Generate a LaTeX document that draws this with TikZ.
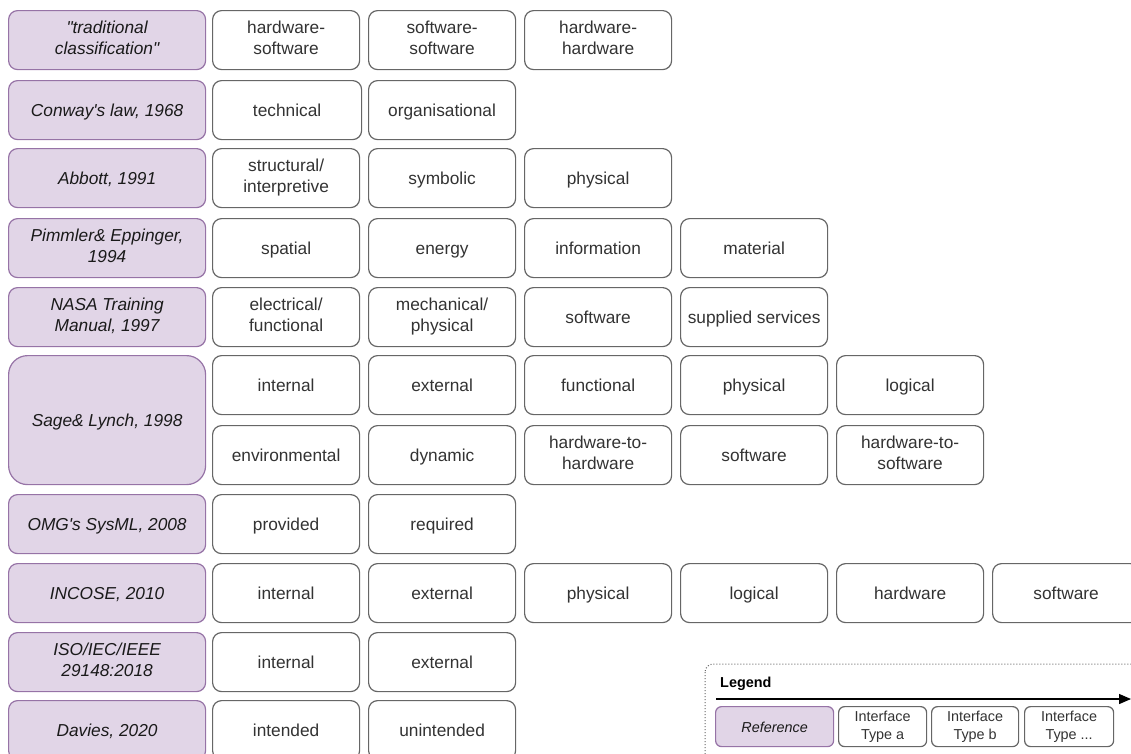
\documentclass[tikz,border=0pt]{standalone}
\usepackage{fontspec}
\usetikzlibrary{arrows.meta}
\newfontfamily\arial{Liberation Sans}
\definecolor{reffill}{HTML}{E1D5E7}
\definecolor{refdraw}{HTML}{9673A6}
\definecolor{ifcdraw}{HTML}{666666}
\definecolor{ifctext}{HTML}{333333}
\definecolor{reftext}{HTML}{1A1A1A}
% fixed-size strut so every line sits at the same height in its box
\newcommand\linestrut{\rule[-0.19\baselineskip]{0pt}{\baselineskip}}
\tikzset{
  cell/.style={anchor=north west, inner sep=0pt, align=center, line width=1.2pt,
    execute at begin node=\linestrut, execute at end node=\linestrut},
  refbox/.style={cell, rounded corners=9pt, draw=refdraw, fill=reffill, text=reftext,
    font=\arial\itshape\fontsize{17.3}{21}\selectfont, minimum width=197pt, minimum height=59pt},
  ifcbox/.style={cell, rounded corners=9pt, draw=ifcdraw, fill=white, text=ifctext,
    font=\arial\fontsize{17.3}{21}\selectfont, minimum width=147pt, minimum height=59pt},
  legref/.style={refbox, rounded corners=6pt, minimum width=118pt, minimum height=40pt,
    font=\arial\itshape\fontsize{14.4}{18}\selectfont},
  legifc/.style={ifcbox, rounded corners=6pt, minimum height=40pt,
    font=\arial\fontsize{14.4}{18}\selectfont},
  legframe/.style={draw=ifcdraw, line width=1pt, dotted, rounded corners=8pt},
  axis/.style={draw=black, line width=1.3pt, -{Triangle[length=12pt,width=10pt]}},
}
\begin{document}
\begin{tikzpicture}[x=1pt, y=-1pt]
\useasboundingbox (0,0) rectangle (1131,753);
\clip (0,0) rectangle (1131,753);

% "traditional classification"
\node[refbox] (r1) at (8,10) {"traditional\\classification"};
\node[ifcbox] (r1a) at (212,10) {hardware-\\software};
\node[ifcbox] (r1b) at (368,10) {software-\\software};
\node[ifcbox] (r1c) at (524,10) {hardware-\\hardware};

% Conway
\node[refbox] (r2) at (8,80) {Conway's law, 1968};
\node[ifcbox, minimum width=149pt] (r2a) at (212,80) {technical};
\node[ifcbox] (r2b) at (368,80) {organisational};

% Abbott
\node[refbox] (r3) at (8,148) {Abbott, 1991};
\node[ifcbox] (r3a) at (212,148) {structural/\\interpretive};
\node[ifcbox] (r3b) at (368,148) {symbolic};
\node[ifcbox] (r3c) at (524,148) {physical};

% Pimmler & Eppinger
\node[refbox] (r4) at (8,218) {Pimmler\& Eppinger,\\1994};
\node[ifcbox] (r4a) at (212,218) {spatial};
\node[ifcbox] (r4b) at (368,218) {energy};
\node[ifcbox] (r4c) at (524,218) {information};
\node[ifcbox] (r4d) at (680,218) {material};

% NASA
\node[refbox] (r5) at (8,287) {NASA Training\\Manual, 1997};
\node[ifcbox] (r5a) at (212,287) {electrical/\\functional};
\node[ifcbox] (r5b) at (368,287) {mechanical/\\physical};
\node[ifcbox] (r5c) at (524,287) {software};
\node[ifcbox] (r5d) at (680,287) {supplied services};

% Sage & Lynch (two rows)
\node[refbox, minimum height=129pt, rounded corners=19pt] (r6) at (8,355) {Sage\& Lynch, 1998};
\node[ifcbox] (r6a) at (212,355) {internal};
\node[ifcbox] (r6b) at (368,355) {external};
\node[ifcbox] (r6c) at (524,355) {functional};
\node[ifcbox] (r6d) at (680,355) {physical};
\node[ifcbox] (r6e) at (836,355) {logical};
\node[ifcbox] (r6f) at (212,425) {environmental};
\node[ifcbox] (r6g) at (368,425) {dynamic};
\node[ifcbox] (r6h) at (524,425) {hardware-to-\\hardware};
\node[ifcbox] (r6i) at (680,425) {software};
\node[ifcbox] (r6j) at (836,425) {hardware-to-\\software};

% OMG SysML
\node[refbox] (r7) at (8,494) {OMG's SysML, 2008};
\node[ifcbox] (r7a) at (212,494) {provided};
\node[ifcbox] (r7b) at (368,494) {required};

% INCOSE
\node[refbox] (r8) at (8,563) {INCOSE, 2010};
\node[ifcbox] (r8a) at (212,563) {internal};
\node[ifcbox] (r8b) at (368,563) {external};
\node[ifcbox] (r8c) at (524,563) {physical};
\node[ifcbox] (r8d) at (680,563) {logical};
\node[ifcbox] (r8e) at (836,563) {hardware};
\node[ifcbox] (r8f) at (992,563) {software};

% ISO/IEC/IEEE
\node[refbox] (r9) at (8,632) {ISO/IEC/IEEE\\29148:2018};
\node[ifcbox] (r9a) at (212,632) {internal};
\node[ifcbox] (r9b) at (368,632) {external};

% Davies
\node[refbox] (r10) at (8,700) {Davies, 2020};
\node[ifcbox] (r10a) at (212,700) {intended};
\node[ifcbox] (r10b) at (368,700) {unintended};

% Legend
\draw[legframe] (705,664) rectangle (1150,770);
\node[anchor=west, inner sep=0pt, font=\arial\bfseries\fontsize{14.4}{17}\selectfont] (legtitle) at (720,684) {Legend};
\coordinate (axisL) at (716,699);
\coordinate (axisR) at (1131,699);
\draw[axis] (axisL) -- (axisR);
\node[legref] (lref) at (715,706) {Reference};
\node[legifc, minimum width=88pt] (la) at (838,706) {Interface\\Type a};
\node[legifc, minimum width=87pt] (lb) at (931,706) {Interface\\Type b};
\node[legifc, minimum width=89pt] (lc) at (1024,706) {Interface\\Type ...};
\end{tikzpicture}
\end{document}
